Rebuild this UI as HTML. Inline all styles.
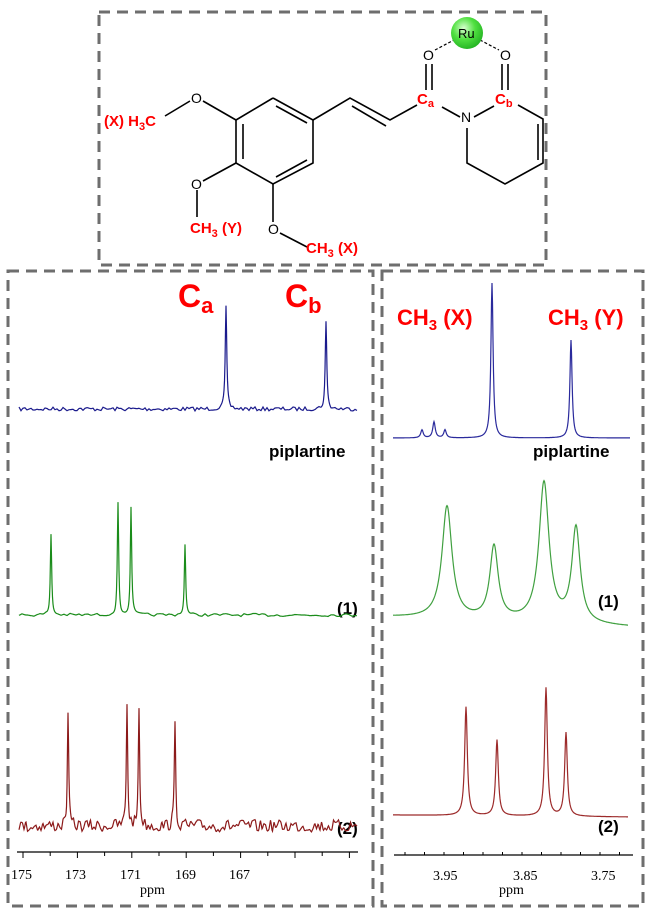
<!DOCTYPE html>
<html><head><meta charset="utf-8"><style>
html,body{margin:0;padding:0;background:#fff}
svg{display:block}
text{font-family:"Liberation Sans",Arial,sans-serif}
text.serif{font-family:"Liberation Serif","Times New Roman",serif}
</style></head><body>
<svg id="s" width="650" height="913" viewBox="0 0 650 913" xmlns="http://www.w3.org/2000/svg">
<g fill="none" stroke="#6e6e6e" stroke-width="3" stroke-dasharray="11,7">
<rect x="99" y="12" width="447" height="253"/>
<rect x="8" y="271" width="365" height="635"/>
<rect x="382" y="271" width="261" height="635"/>
</g>
<g stroke="#000" stroke-width="1.6" fill="none">
<polyline points="273,98 313,120 313,163 273,184 236,163 236,120 273,98"/>
<line x1="276" y1="106" x2="307" y2="123"/>
<line x1="307" y1="160" x2="276" y2="177"/>
<line x1="243" y1="124" x2="243" y2="159"/>
<line x1="236" y1="120" x2="203" y2="101"/>
<line x1="190" y1="101" x2="165" y2="116"/>
<line x1="236" y1="163" x2="203" y2="181"/>
<line x1="197" y1="190" x2="197" y2="217"/>
<line x1="273" y1="184" x2="273" y2="222"/>
<line x1="280" y1="233" x2="307" y2="247"/>
<polyline points="313,120 350,98 390,120 417,105"/>
<line x1="352" y1="106" x2="386" y2="126"/>
<line x1="426" y1="90" x2="426" y2="64"/>
<line x1="432" y1="90" x2="432" y2="64"/>
<line x1="502" y1="90" x2="502" y2="64"/>
<line x1="508" y1="90" x2="508" y2="64"/>
<line x1="442" y1="107" x2="460" y2="117"/>
<line x1="474" y1="117" x2="494" y2="106"/>
<polyline points="518,105 543,119 543,163 505,184 467,163 467,128"/>
<line x1="538" y1="124" x2="538" y2="160"/>
<g stroke-dasharray="3,2" stroke-width="1.2"><line x1="435" y1="50" x2="454" y2="40"/><line x1="480" y1="40" x2="499" y2="50"/></g>
</g>
<defs><radialGradient id="g" cx="0.4" cy="0.35" r="0.7"><stop offset="0" stop-color="#d8ffd0"/><stop offset="0.5" stop-color="#50e040"/><stop offset="1" stop-color="#20b020"/></radialGradient></defs>
<circle cx="467" cy="33" r="16" fill="url(#g)"/>
<g font-size="14" fill="#000">
<text x="458" y="38" font-size="13">Ru</text>
<text x="191" y="103">O</text>
<text x="191" y="189">O</text>
<text x="268" y="234">O</text>
<text x="423" y="60">O</text>
<text x="500" y="60">O</text>
<text x="461" y="122">N</text>
</g>
<g fill="#f00" font-weight="bold" font-size="15">
<text x="104" y="126">(X) H<tspan font-size="11" dy="4">3</tspan><tspan dy="-4">C</tspan></text>
<text x="190" y="233">CH<tspan font-size="11" dy="4">3</tspan><tspan dy="-4"> (Y)</tspan></text>
<text x="306" y="253">CH<tspan font-size="11" dy="4">3</tspan><tspan dy="-4"> (X)</tspan></text>
<text x="417" y="104">C<tspan font-size="11" dy="3">a</tspan></text>
<text x="495" y="104">C<tspan font-size="11" dy="3">b</tspan></text>
</g>
<g fill="#f00" font-weight="bold">
<text x="178" y="307" font-size="32">C<tspan font-size="22" dy="6">a</tspan></text>
<text x="285" y="307" font-size="32">C<tspan font-size="22" dy="6">b</tspan></text>
<text x="397" y="325" font-size="22">CH<tspan font-size="15" dy="5">3</tspan><tspan dy="-5"> (X)</tspan></text>
<text x="548" y="325" font-size="22">CH<tspan font-size="15" dy="5">3</tspan><tspan dy="-5"> (Y)</tspan></text>
</g>
<g font-weight="bold" font-size="17" fill="#000">
<text x="269" y="457">piplartine</text>
<text x="533" y="457">piplartine</text>
<text x="337" y="614">(1)</text>
<text x="337" y="834">(2)</text>
<text x="598" y="607">(1)</text>
<text x="598" y="832">(2)</text>
</g>
<g stroke="#000" stroke-width="1.2">
<line x1="17" y1="852" x2="358" y2="852"/>
<line x1="394" y1="855" x2="633" y2="855"/>
</g>
<g id="ticks" stroke="#000" stroke-width="1"></g>
<g font-size="14" fill="#000">
<text class="serif" x="11" y="879">175</text>
<text class="serif" x="65" y="879">173</text>
<text class="serif" x="120" y="879">171</text>
<text class="serif" x="175" y="879">169</text>
<text class="serif" x="229" y="879">167</text>
<text class="serif" x="140" y="894">ppm</text>
<text class="serif" x="433" y="880">3.95</text>
<text class="serif" x="513" y="880">3.85</text>
<text class="serif" x="591" y="880">3.75</text>
<text class="serif" x="499" y="894">ppm</text>
</g>
<path id="p1" fill="none" stroke="#1a1a8c" stroke-width="1.2"/>
<path id="p2" fill="none" stroke="#1a8c1a" stroke-width="1.2"/>
<path id="p3" fill="none" stroke="#8c1a1a" stroke-width="1.2"/>
<path id="p4" fill="none" stroke="#2a2a9c" stroke-width="1.2"/>
<path id="p5" fill="none" stroke="#40a040" stroke-width="1.2"/>
<path id="p6" fill="none" stroke="#9c2a2a" stroke-width="1.2"/>
</svg>
<script>
var seed=7;function rnd(){seed=(seed*16807)%2147483647;return seed/2147483647-0.5;}
function spec(id,x0,x1,base,baseEnd,peaks,noise,w,nstep){
 nstep=nstep||2.5;var nz=[];for(var k=0;k<=(x1-x0)/nstep+2;k++)nz.push(rnd()*noise);
 var d="";for(var x=x0;x<=x1;x+=0.5){var b=base+(baseEnd-base)*(x-x0)/(x1-x0);var y=b;
 for(var i=0;i<peaks.length;i++){var p=peaks[i];var ww=p[2]||w;var t=(x-p[0])/ww;y-=(b-p[1])/(1+t*t);}
 if(noise){var f=(x-x0)/nstep,k=Math.floor(f),r=f-k;y+=nz[k]*(1-r)+nz[k+1]*r;}
 d+=(d?"L":"M")+x.toFixed(1)+","+y.toFixed(1);}
 document.getElementById(id).setAttribute("d",d);}
spec("p1",19,357,409,409,[[226,307],[326,322]],4,0.9,2);
spec("p2",19,357,615,615,[[51,534],[118,504],[131,507],[185,544]],3,0.8,3);
spec("p3",19,357,826,826,[[68,717],[127,703],[139,707],[175,725]],13,0.8,1.7);
spec("p4",393,630,438,438,[[422,430,1.5],[434,422,1.5],[445,430,1.5],[492,283,1.3],[571,340,1.3]],0,1.3);
spec("p5",393,628,617,627,[[447,507,6],[494,548,5],[544,484,6],[576,530,5]],0,5);
spec("p6",393,628,815,817,[[466,707,1.6],[497,740,1.6],[546,688,1.6],[566,733,1.6]],0,1.6);
var t=document.getElementById("ticks"),h="";
for(var i=0;i<13;i++){var x=23+i*27.2;h+='<line x1="'+x+'" y1="852" x2="'+x+'" y2="'+(i%2?856:858)+'"/>';}
for(var i=0;i<12;i++){var x=405+i*19.5;h+='<line x1="'+x+'" y1="852" x2="'+x+'" y2="855"/>';}
t.innerHTML=h;
</script>
</body></html>
